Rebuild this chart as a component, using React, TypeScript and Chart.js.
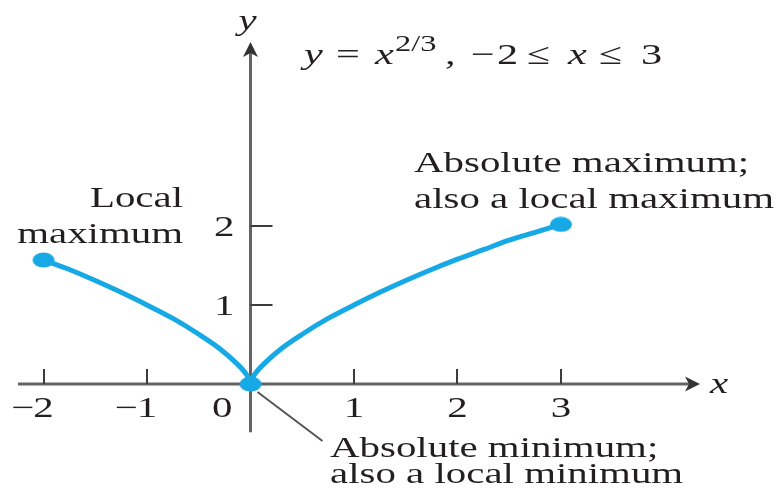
import React, { useEffect, useRef } from 'react';
import { Chart, registerables } from 'chart.js';

Chart.register(...registerables);

// Curve y = x^(2/3) sampled on both sides of the cusp at the origin
const LEFT_X = [-2, -1.75, -1.5, -1.25, -1, -0.75, -0.5, -0.3, -0.15, -0.05, -0.01, 0];
const LEFT_Y = [1.57, 1.45, 1.31, 1.16, 1.0, 0.83, 0.63, 0.45, 0.28, 0.14, 0.05, 0];
const RIGHT_X = [0, 0.01, 0.05, 0.15, 0.3, 0.5, 0.75, 1, 1.25, 1.5, 1.75, 2, 2.25, 2.5, 2.75, 3];
const RIGHT_Y = [0, 0.05, 0.14, 0.28, 0.45, 0.63, 0.83, 1.0, 1.16, 1.31, 1.45, 1.58, 1.7, 1.82, 1.92, 2.02];

// Extreme points marked with dots
const EXTREME_X = [-2, 0, 3];
const EXTREME_Y = [1.57, 0, 2.02];

// Axis ticks and their labels
const X_TICKS = [-2, -1, 1, 2, 3];
const X_TICK_LABELS = ['\u22122', '\u22121', '1', '2', '3'];
const Y_TICKS = [1, 2];
const Y_TICK_LABELS = ['1', '2'];
const ORIGIN_LABEL = '0';

// Visible extent of the axis lines (data units)
const X_AXIS_RANGE = [-2.246, 4.343];
const Y_AXIS_RANGE = [-0.61, 4.33];

// Scale windows
const X_MIN = -2.4203;
const X_MAX = 5.1063;
const Y_MIN = -1.443;
const Y_MAX = 4.8608;

const W = 779;
const H = 498;
const BLUE = '#16a9e5';
const INK = '#231f20';
const AXIS_COLOR = '#636363';
const TICK_COLOR = '#3c3c3c';
const SERIF = '"Liberation Serif", "Times New Roman", serif';
const FONT_PX = 29;
const STRETCH = 1.41;

type Run = { t: string; italic?: boolean; size?: number; rise?: number; at?: number };

function fontFor(r: Run) {
  return `${r.italic ? 'italic ' : ''}${r.size ?? FONT_PX}px ${SERIF}`;
}

function runsWidth(ctx: CanvasRenderingContext2D, runs: Run[]) {
  let w = 0;
  for (const r of runs) {
    ctx.font = fontFor(r);
    w += ctx.measureText(r.t).width;
  }
  return w * STRETCH;
}

function drawRuns(
  ctx: CanvasRenderingContext2D,
  runs: Run[],
  x: number,
  y: number,
  align: 'left' | 'right' | 'center' = 'left'
) {
  const w = runsWidth(ctx, runs);
  const start = align === 'right' ? x - w : align === 'center' ? x - w / 2 : x;
  ctx.save();
  ctx.fillStyle = INK;
  ctx.textAlign = 'left';
  ctx.textBaseline = 'alphabetic';
  ctx.translate(start, y);
  ctx.scale(STRETCH, 1);
  let cx = 0;
  for (const r of runs) {
    ctx.font = fontFor(r);
    ctx.fillText(r.t, cx, -(r.rise ?? 0));
    cx += ctx.measureText(r.t).width;
  }
  ctx.restore();
}

// Label whose digit is centred on the tick, a leading minus hangs to the left
function drawTickLabel(ctx: CanvasRenderingContext2D, label: string, cx: number, baseline: number) {
  const digit = label.replace('\u2212', '');
  const dw = runsWidth(ctx, [{ t: digit }]);
  const left = cx - dw / 2;
  drawRuns(ctx, [{ t: digit }], left, baseline, 'left');
  if (label.startsWith('\u2212')) {
    drawRuns(ctx, [{ t: '\u2212' }], left + 1, baseline, 'right');
  }
}

function makeDot() {
  const c = document.createElement('canvas');
  c.width = 24;
  c.height = 16;
  const g = c.getContext('2d')!;
  g.fillStyle = BLUE;
  g.beginPath();
  g.ellipse(12, 8, 11, 7.5, 0, 0, Math.PI * 2);
  g.fill();
  return c;
}

function arrowHead(ctx: CanvasRenderingContext2D, tipX: number, tipY: number, dir: 'right' | 'up') {
  const len = 15;
  const half = 7.5;
  const notch = 11;
  ctx.beginPath();
  if (dir === 'right') {
    ctx.moveTo(tipX, tipY);
    ctx.lineTo(tipX - len, tipY - half);
    ctx.lineTo(tipX - notch, tipY);
    ctx.lineTo(tipX - len, tipY + half);
  } else {
    ctx.moveTo(tipX, tipY);
    ctx.lineTo(tipX - half, tipY + len);
    ctx.lineTo(tipX, tipY + notch);
    ctx.lineTo(tipX + half, tipY + len);
  }
  ctx.closePath();
  ctx.fill();
}

// Title tokens, each placed at its own left edge
const TITLE: Run[] = [
  { t: 'y', italic: true, at: 304 },
  { t: '=', at: 336 },
  { t: 'x', italic: true, at: 375 },
  { t: '2/3', size: 23, rise: 13, at: 395 },
  { t: ',', at: 445 },
  { t: '\u2212', at: 471 },
  { t: '2', at: 497 },
  { t: '\u2264', at: 527 },
  { t: 'x', italic: true, at: 568 },
  { t: '\u2264', at: 599 },
  { t: '3', at: 641 },
];

const axesPlugin = {
  id: 'crossedAxes',
  beforeDatasetsDraw(chart: any) {
    const ctx: CanvasRenderingContext2D = chart.ctx;
    const xs = chart.scales.x;
    const ys = chart.scales.y;
    const x0 = xs.getPixelForValue(0);
    const y0 = ys.getPixelForValue(0);
    const xl = xs.getPixelForValue(X_AXIS_RANGE[0]);
    const xr = xs.getPixelForValue(X_AXIS_RANGE[1]);
    const yb = ys.getPixelForValue(Y_AXIS_RANGE[0]);
    const yt = ys.getPixelForValue(Y_AXIS_RANGE[1]);

    ctx.save();
    ctx.strokeStyle = AXIS_COLOR;
    ctx.lineWidth = 3;
    ctx.beginPath();
    ctx.moveTo(xl, y0);
    ctx.lineTo(xr - 8, y0);
    ctx.moveTo(x0, yb);
    ctx.lineTo(x0, yt + 8);
    ctx.stroke();
    ctx.fillStyle = '#333333';
    arrowHead(ctx, xr, y0, 'right');
    arrowHead(ctx, x0, yt, 'up');

    ctx.strokeStyle = TICK_COLOR;
    ctx.lineWidth = 2;
    ctx.beginPath();
    for (const v of X_TICKS) {
      const px = Math.round(xs.getPixelForValue(v));
      ctx.moveTo(px, y0);
      ctx.lineTo(px, y0 - 15);
    }
    for (const v of Y_TICKS) {
      const py = Math.round(ys.getPixelForValue(v));
      ctx.moveTo(x0, py);
      ctx.lineTo(x0 + 22, py);
    }
    ctx.stroke();

    // leader from the minimum to its note
    ctx.strokeStyle = '#555555';
    ctx.lineWidth = 2;
    ctx.beginPath();
    ctx.moveTo(x0 + 7, y0 + 8);
    ctx.lineTo(x0 + 72, y0 + 57);
    ctx.stroke();
    ctx.restore();
  },
  afterDraw(chart: any) {
    const ctx: CanvasRenderingContext2D = chart.ctx;
    const xs = chart.scales.x;
    const ys = chart.scales.y;
    const x0 = xs.getPixelForValue(0);
    const y0 = ys.getPixelForValue(0);

    X_TICKS.forEach((v, i) => drawTickLabel(ctx, X_TICK_LABELS[i], xs.getPixelForValue(v), y0 + 33));
    drawRuns(ctx, [{ t: ORIGIN_LABEL }], x0 - 18, y0 + 33, 'right');
    Y_TICKS.forEach((v, i) =>
      drawRuns(ctx, [{ t: Y_TICK_LABELS[i] }], x0 - 16, ys.getPixelForValue(v) + 10, 'right')
    );

    drawRuns(ctx, [{ t: 'x', italic: true }], xs.getPixelForValue(X_AXIS_RANGE[1]) + 10, y0 + 9, 'left');
    drawRuns(ctx, [{ t: 'y', italic: true }], x0 - 3, 30, 'center');

    for (const r of TITLE) {
      drawRuns(ctx, [{ ...r, size: r.size ?? 30 }], r.at ?? 0, 64, 'left');
    }

    drawRuns(ctx, [{ t: 'Local' }], 183, 207, 'right');
    drawRuns(ctx, [{ t: 'maximum' }], 183, 243, 'right');
    drawRuns(ctx, [{ t: 'Absolute maximum;' }], 414, 172, 'left');
    drawRuns(ctx, [{ t: 'also a local maximum' }], 414, 208, 'left');
    drawRuns(ctx, [{ t: 'Absolute minimum;' }], 330, 457, 'left');
    drawRuns(ctx, [{ t: 'also a local minimum' }], 330, 483, 'left');
  },
};

export default function App() {
  const ref = useRef<HTMLCanvasElement | null>(null);

  useEffect(() => {
    const canvas = ref.current;
    if (!canvas) return;
    const dot = makeDot();
    const toPts = (xs: number[], ys: number[]) => xs.map((x, i) => ({ x, y: ys[i] }));
    const branch = (xs: number[], ys: number[]) =>
      ({
        data: toPts(xs, ys),
        showLine: true,
        borderColor: BLUE,
        borderWidth: 5,
        pointRadius: 0,
        cubicInterpolationMode: 'monotone',
        borderCapStyle: 'round',
        clip: false,
      }) as any;
    const chart = new Chart(canvas, {
      type: 'scatter',
      data: {
        datasets: [
          branch(LEFT_X, LEFT_Y),
          branch(RIGHT_X, RIGHT_Y),
          {
            data: toPts(EXTREME_X, EXTREME_Y),
            showLine: false,
            pointStyle: dot,
            pointRadius: 8,
            backgroundColor: BLUE,
            borderColor: BLUE,
            clip: false,
          } as any,
        ],
      },
      options: {
        animation: false,
        responsive: false,
        events: [],
        layout: { padding: 0, autoPadding: false } as any,
        plugins: { legend: { display: false }, tooltip: { enabled: false } },
        scales: {
          x: { type: 'linear', min: X_MIN, max: X_MAX, display: false },
          y: { type: 'linear', min: Y_MIN, max: Y_MAX, display: false },
        },
      },
      plugins: [axesPlugin],
    });
    return () => chart.destroy();
  }, []);

  return (
    <div style={{ position: 'fixed', left: 0, top: 0, width: W, height: H, background: '#ffffff' }}>
      <canvas ref={ref} width={W} height={H} style={{ display: 'block', width: W, height: H }} />
    </div>
  );
}
